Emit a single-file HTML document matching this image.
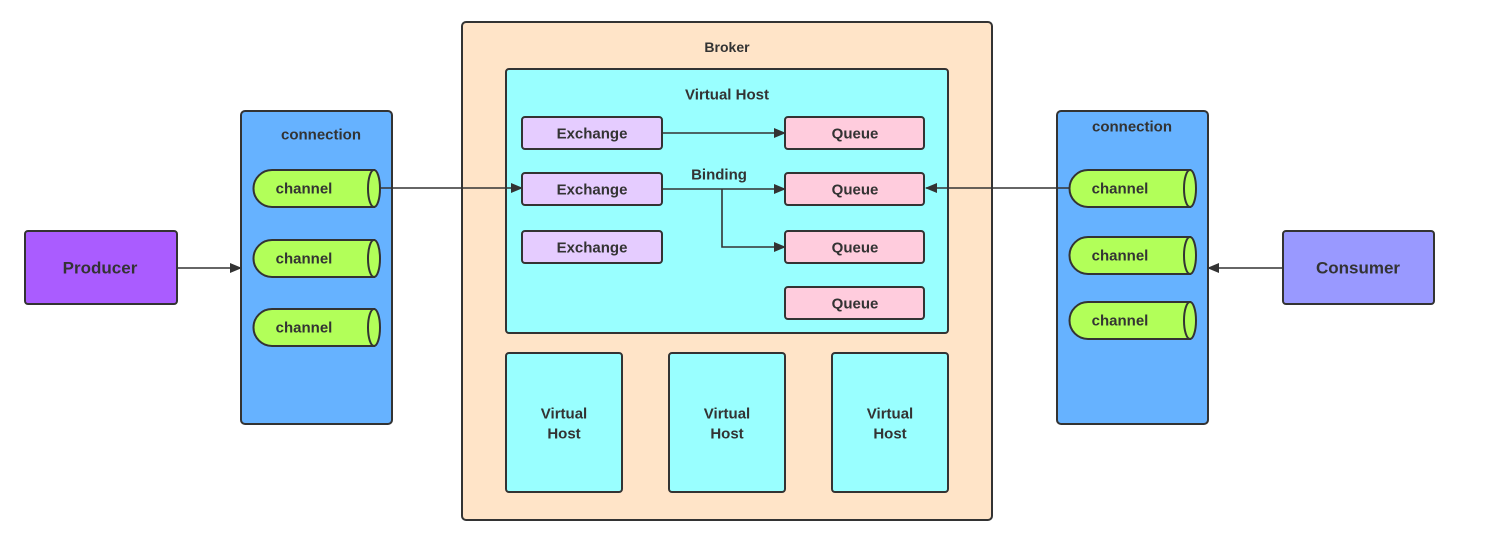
<!DOCTYPE html>
<html><head><meta charset="utf-8"><style>
html,body{margin:0;padding:0;background:#fff;}
svg text{font-family:"Liberation Sans",sans-serif;font-weight:bold;fill:#333;text-anchor:middle;dominant-baseline:central;}
</style></head><body>
<svg width="1494" height="528" viewBox="0 0 1494 528" xmlns="http://www.w3.org/2000/svg">
<defs><marker id="a" markerWidth="12" markerHeight="10" refX="11" refY="5" orient="auto" markerUnits="userSpaceOnUse"><path d="M0,0 L12,5 L0,10 Z" fill="#333"/></marker></defs>
<g stroke="#333" stroke-width="2">
<rect x="25" y="231" width="152" height="73" rx="3" fill="#aa5cff"/>
<rect x="1283" y="231" width="151" height="73" rx="3" fill="#9999ff"/>
<rect x="241" y="111" width="151" height="313" rx="4" fill="#66b2ff"/>
<rect x="1057" y="111" width="151" height="313" rx="4" fill="#66b2ff"/>
<rect x="462" y="22" width="530" height="498" rx="4" fill="#ffe4c8"/>
<rect x="506" y="69" width="442" height="264" rx="3" fill="#99ffff"/>
<rect x="506" y="353" width="116" height="139" rx="3" fill="#99ffff"/>
<rect x="669" y="353" width="116" height="139" rx="3" fill="#99ffff"/>
<rect x="832" y="353" width="116" height="139" rx="3" fill="#99ffff"/>
<g fill="#e5ccff"><rect x="522" y="117" width="140" height="32" rx="3"/><rect x="522" y="173" width="140" height="32" rx="3"/><rect x="522" y="231" width="140" height="32" rx="3"/></g>
<g fill="#ffccdd"><rect x="785" y="117" width="139" height="32" rx="3"/><rect x="785" y="173" width="139" height="32" rx="3"/><rect x="785" y="231" width="139" height="32" rx="3"/><rect x="785" y="287" width="139" height="32" rx="3"/></g>
<g fill="#b2ff59">
<path d="M272,170 H374 V207 H272 A18.5,18.5 0 0 1 272,170 Z"/><ellipse cx="374" cy="188.5" rx="6" ry="18.5"/>
<path d="M272,240 H374 V277 H272 A18.5,18.5 0 0 1 272,240 Z"/><ellipse cx="374" cy="258.5" rx="6" ry="18.5"/>
<path d="M272,309 H374 V346 H272 A18.5,18.5 0 0 1 272,309 Z"/><ellipse cx="374" cy="327.5" rx="6" ry="18.5"/>
<path d="M1088,170 H1190 V207 H1088 A18.5,18.5 0 0 1 1088,170 Z"/><ellipse cx="1190" cy="188.5" rx="6" ry="18.5"/>
<path d="M1088,237 H1190 V274 H1088 A18.5,18.5 0 0 1 1088,237 Z"/><ellipse cx="1190" cy="255.5" rx="6" ry="18.5"/>
<path d="M1088,302 H1190 V339 H1088 A18.5,18.5 0 0 1 1088,302 Z"/><ellipse cx="1190" cy="320.5" rx="6" ry="18.5"/>
</g>
</g>
<g stroke="#333" stroke-width="1.6" fill="none" marker-end="url(#a)">
<path d="M380,188 H522"/>
<path d="M662,133 H785"/>
<path d="M662,189 H785"/>
<path d="M722,189 V247 H785"/>
<path d="M1069,188 H926"/>
<path d="M177,268 H241"/>
<path d="M1283,268 H1208"/>
</g>
<text x="100" y="268" font-size="17">Producer</text>
<text x="1358" y="268" font-size="17">Consumer</text>
<text x="321" y="135" font-size="15">connection</text>
<text x="1132" y="127" font-size="15">connection</text>
<text x="727" y="47" font-size="14">Broker</text>
<text x="727" y="95" font-size="15">Virtual Host</text>
<text x="719" y="175" font-size="15">Binding</text>
<g font-size="15">
<text x="304" y="189">channel</text><text x="304" y="259">channel</text><text x="304" y="328">channel</text>
<text x="1120" y="189">channel</text><text x="1120" y="256">channel</text><text x="1120" y="321">channel</text>
<text x="592" y="134">Exchange</text><text x="592" y="190">Exchange</text><text x="592" y="248">Exchange</text>
<text x="855" y="134">Queue</text><text x="855" y="190">Queue</text><text x="855" y="248">Queue</text><text x="855" y="304">Queue</text>
<text x="564" y="414">Virtual</text><text x="564" y="434">Host</text>
<text x="727" y="414">Virtual</text><text x="727" y="434">Host</text>
<text x="890" y="414">Virtual</text><text x="890" y="434">Host</text>
</g>
</svg>
</body></html>
